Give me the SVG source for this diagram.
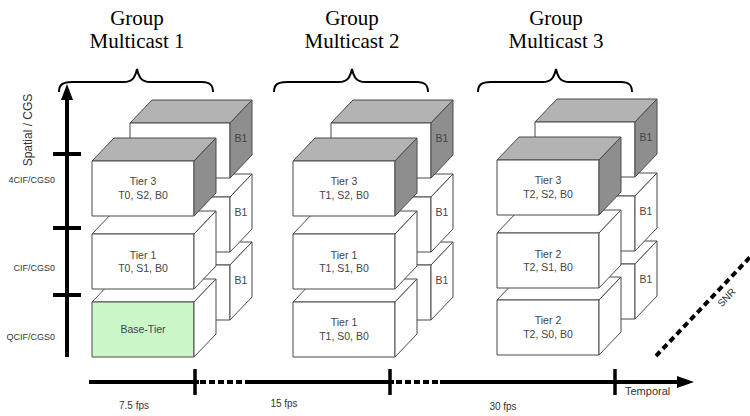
<svg xmlns="http://www.w3.org/2000/svg" xmlns:xlink="http://www.w3.org/1999/xlink" width="750" height="416" viewBox="0 0 750 416">
<style>
.face{stroke:#4a4a4a;stroke-width:1;stroke-linejoin:round}
.w{fill:#ffffff}
.gr{fill:#b3b3b3}
.dk{fill:#8e8e8e}
.grn{fill:#ccf7c8}
.lbl{font-family:"Liberation Sans",Arial,sans-serif;font-size:10.5px;fill:#444;text-anchor:middle}
.ttl{font-family:"Liberation Serif","Times New Roman",serif;font-size:21px;fill:#000;text-anchor:middle}
.ax{font-family:"Liberation Sans",Arial,sans-serif;fill:#333}
.axl{stroke:#000;stroke-width:4;fill:none}
.tick{stroke:#000;stroke-width:3.5}
.brace{stroke:#000;stroke-width:2;fill:none}
</style>
<defs>
<polygon id="ftop" points="0,0 22,-23 124,-23 102,0"/>
<polygon id="fside" points="102,0 124,-23 124,32 102,55"/>
<rect id="ffront" x="0" y="0" width="102" height="55"/>
<polygon id="btop" points="0,0 22,-23 122,-23 100,0"/>
<polygon id="bside" points="100,0 122,-23 122,32 100,55"/>
<rect id="bfront" x="0" y="0" width="100" height="55"/>
<path id="brace" d="M59,92 C59,85 62,82 72,82 L124,82 C132,82 135,78 137,69 C139,78 142,82 150,82 L202,82 C210,82 213,85 213,92"/>
</defs>

<!-- Titles -->
<g id="titles">
<text class="ttl" x="137" y="25">Group</text><text class="ttl" x="137" y="48">Multicast 1</text>
<text class="ttl" x="352" y="25">Group</text><text class="ttl" x="352" y="48">Multicast 2</text>
<text class="ttl" x="556" y="25">Group</text><text class="ttl" x="556" y="48">Multicast 3</text>
</g>
<g id="braces">
<use xlink:href="#brace" class="brace"/>
<use xlink:href="#brace" class="brace" transform="translate(215,0)"/>
<use xlink:href="#brace" class="brace" transform="translate(419,0)"/>
</g>

<!-- Group 1 -->
<g id="gm1">
<g id="gm1-b1-low" transform="translate(130,265)"><use xlink:href="#btop" class="face w"/><use xlink:href="#bfront" class="face w"/><use xlink:href="#bside" class="face w"/><text class="lbl" x="111" y="19">B1</text></g>
<g id="gm1-b1-mid" transform="translate(130,197)"><use xlink:href="#btop" class="face w"/><use xlink:href="#bfront" class="face w"/><use xlink:href="#bside" class="face w"/><text class="lbl" x="111" y="19">B1</text></g>
<g id="gm1-b1-top" transform="translate(130,123)"><use xlink:href="#btop" class="face gr"/><use xlink:href="#bfront" class="face w"/><use xlink:href="#bside" class="face dk"/><text class="lbl" x="111" y="19">B1</text></g>
<g id="gm1-base" transform="translate(92,302)"><use xlink:href="#ftop" class="face w"/><use xlink:href="#ffront" class="face grn"/><use xlink:href="#fside" class="face w"/><text class="lbl" x="51" y="31">Base-Tier</text></g>
<g id="gm1-tier1" transform="translate(92,234)"><use xlink:href="#ftop" class="face w"/><use xlink:href="#ffront" class="face w"/><use xlink:href="#fside" class="face w"/><text class="lbl" x="51" y="25">Tier 1</text><text class="lbl" x="51" y="38">T0, S1, B0</text></g>
<g id="gm1-tier3" transform="translate(92,161)"><use xlink:href="#ftop" class="face gr"/><use xlink:href="#ffront" class="face w"/><use xlink:href="#fside" class="face dk"/><text class="lbl" x="51" y="24">Tier 3</text><text class="lbl" x="51" y="38">T0, S2, B0</text></g>
</g>

<!-- Group 2 -->
<g id="gm2">
<g id="gm2-b1-low" transform="translate(331,265)"><use xlink:href="#btop" class="face w"/><use xlink:href="#bfront" class="face w"/><use xlink:href="#bside" class="face w"/><text class="lbl" x="111" y="19">B1</text></g>
<g id="gm2-b1-mid" transform="translate(331,197)"><use xlink:href="#btop" class="face w"/><use xlink:href="#bfront" class="face w"/><use xlink:href="#bside" class="face w"/><text class="lbl" x="111" y="19">B1</text></g>
<g id="gm2-b1-top" transform="translate(331,123)"><use xlink:href="#btop" class="face gr"/><use xlink:href="#bfront" class="face w"/><use xlink:href="#bside" class="face dk"/><text class="lbl" x="111" y="19">B1</text></g>
<g id="gm2-tier1-s0" transform="translate(293,302)"><use xlink:href="#ftop" class="face w"/><use xlink:href="#ffront" class="face w"/><use xlink:href="#fside" class="face w"/><text class="lbl" x="51" y="24">Tier 1</text><text class="lbl" x="51" y="38">T1, S0, B0</text></g>
<g id="gm2-tier1-s1" transform="translate(293,234)"><use xlink:href="#ftop" class="face w"/><use xlink:href="#ffront" class="face w"/><use xlink:href="#fside" class="face w"/><text class="lbl" x="51" y="25">Tier 1</text><text class="lbl" x="51" y="38">T1, S1, B0</text></g>
<g id="gm2-tier3" transform="translate(293,161)"><use xlink:href="#ftop" class="face gr"/><use xlink:href="#ffront" class="face w"/><use xlink:href="#fside" class="face dk"/><text class="lbl" x="51" y="24">Tier 3</text><text class="lbl" x="51" y="38">T1, S2, B0</text></g>
</g>

<!-- Group 3 -->
<g id="gm3">
<g id="gm3-b1-low" transform="translate(535,264)"><use xlink:href="#btop" class="face w"/><use xlink:href="#bfront" class="face w"/><use xlink:href="#bside" class="face w"/><text class="lbl" x="111" y="19">B1</text></g>
<g id="gm3-b1-mid" transform="translate(535,196)"><use xlink:href="#btop" class="face w"/><use xlink:href="#bfront" class="face w"/><use xlink:href="#bside" class="face w"/><text class="lbl" x="111" y="19">B1</text></g>
<g id="gm3-b1-top" transform="translate(535,122)"><use xlink:href="#btop" class="face gr"/><use xlink:href="#bfront" class="face w"/><use xlink:href="#bside" class="face dk"/><text class="lbl" x="111" y="19">B1</text></g>
<g id="gm3-tier2-s0" transform="translate(497,300)"><use xlink:href="#ftop" class="face w"/><use xlink:href="#ffront" class="face w"/><use xlink:href="#fside" class="face w"/><text class="lbl" x="51" y="24">Tier 2</text><text class="lbl" x="51" y="38">T2, S0, B0</text></g>
<g id="gm3-tier2-s1" transform="translate(497,233)"><use xlink:href="#ftop" class="face w"/><use xlink:href="#ffront" class="face w"/><use xlink:href="#fside" class="face w"/><text class="lbl" x="51" y="25">Tier 2</text><text class="lbl" x="51" y="38">T2, S1, B0</text></g>
<g id="gm3-tier3" transform="translate(497,160)"><use xlink:href="#ftop" class="face gr"/><use xlink:href="#ffront" class="face w"/><use xlink:href="#fside" class="face dk"/><text class="lbl" x="51" y="24">Tier 3</text><text class="lbl" x="51" y="38">T2, S2, B0</text></g>
</g>

<!-- Axes -->
<g id="connectors">
<line class="axl" x1="67" y1="357" x2="67" y2="98"/>
<polygon points="67,84 61,100 73,100" fill="#000"/>
<line class="axl" x1="53" y1="154" x2="81" y2="154"/>
<line class="axl" x1="53" y1="228" x2="81" y2="228"/>
<line class="axl" x1="53" y1="295" x2="81" y2="295"/>

<line class="axl" x1="89" y1="382" x2="199" y2="382"/>
<line class="axl" x1="200" y1="382" x2="250" y2="382" stroke-dasharray="6 3"/>
<line class="axl" x1="250" y1="382" x2="394" y2="382"/>
<line class="axl" x1="396" y1="382" x2="440" y2="382" stroke-dasharray="6 3"/>
<line class="axl" x1="440" y1="382" x2="679" y2="382"/>
<polygon points="694,382 677,376 677,388" fill="#000"/>
<line class="tick" x1="195" y1="369" x2="195" y2="395"/>
<line class="tick" x1="390" y1="369" x2="390" y2="395"/>
<line class="tick" x1="615" y1="369" x2="615" y2="395"/>

<line class="axl" x1="656" y1="356" x2="752" y2="255" stroke-dasharray="6 4"/>
</g>

<g id="axis-labels">
<text class="ax" font-size="12" transform="translate(32,130) rotate(-90)" text-anchor="middle">Spatial / CGS</text>
<text class="ax" font-size="9" x="55" y="183" text-anchor="end">4CIF/CGS0</text>
<text class="ax" font-size="9" x="55" y="271" text-anchor="end">CIF/CGS0</text>
<text class="ax" font-size="9" x="55" y="340" text-anchor="end">QCIF/CGS0</text>
<text class="ax" font-size="10" x="134" y="409" text-anchor="middle">7.5 fps</text>
<text class="ax" font-size="10" x="284" y="407" text-anchor="middle">15 fps</text>
<text class="ax" font-size="10" x="503" y="410" text-anchor="middle">30 fps</text>
<text class="ax" font-size="11" x="625" y="395">Temporal</text>
<text class="ax" font-size="10" transform="translate(729,300) rotate(-46)" text-anchor="middle">SNR</text>
</g>
</svg>
